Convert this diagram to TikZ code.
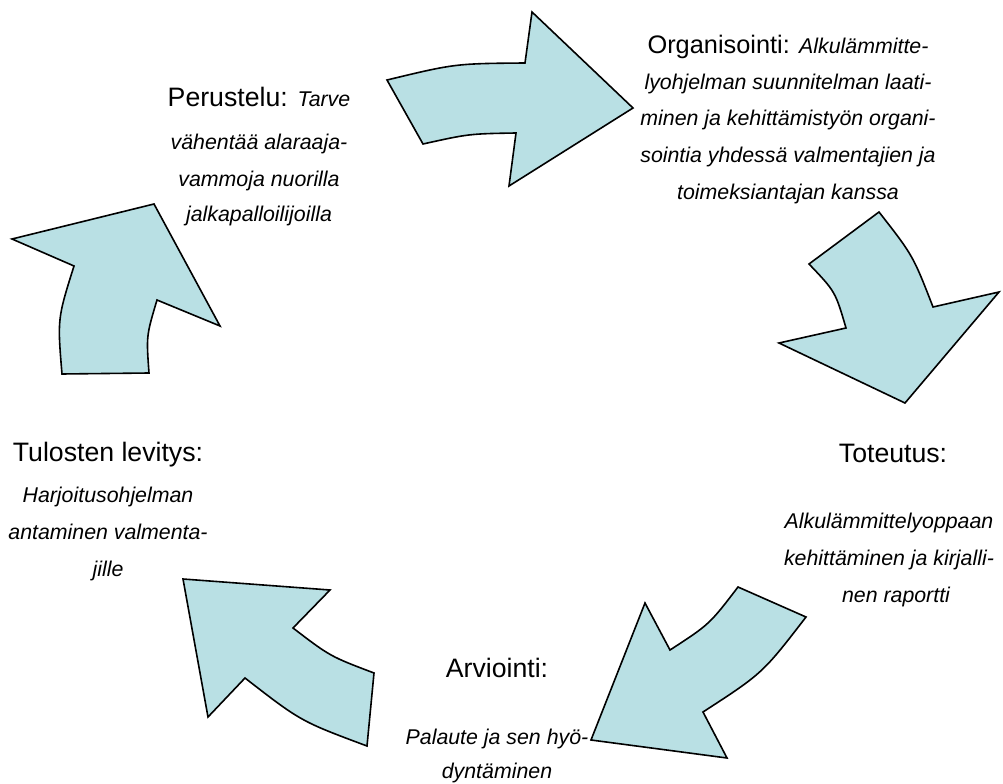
\documentclass[tikz,border=0pt]{standalone}
\usepackage{fontspec}
\setmainfont{Liberation Sans}
\definecolor{arrowfill}{RGB}{185,224,228}
\newcommand\bodyf{\fontsize{16}{19}\selectfont\itshape}
\begin{document}
\begin{tikzpicture}[x=0.75pt,y=-0.75pt,
  arrowshape/.style={draw=black,fill=arrowfill,line width=1.2pt,line join=miter},
  ttl/.style={font=\fontsize{20}{24}\selectfont,anchor=base,inner sep=0pt},
  ln/.style={font=\bodyf,anchor=base,inner sep=0pt}]
\useasboundingbox[fill=white] (0,0) rectangle (1003,784);

% arrow 1 (top, pointing right)
\draw[arrowshape] (387,80) .. controls (455,63.6) .. (525,63) -- (532,12) -- (633,108)
  -- (509,186) -- (516,133) .. controls (469,133.8) .. (423,144) -- cycle;
% arrow 3 (right, pointing down)
\draw[arrowshape] (809,264) -- (879,212) .. controls (913,255.5) .. (933,307) -- (999,292)
  -- (905,403) -- (779,343) -- (846,328) .. controls (835.3,291.5) .. cycle;
% arrow 4 (bottom right, pointing down-left)
\draw[arrowshape] (738,587) -- (806,617) .. controls (762.6,673.3) .. (703,712) -- (727,758)
  -- (591,740) -- (645,603) -- (670,650) .. controls (709.4,624.4) .. cycle;
% arrow 5 (bottom left, pointing up-left)
\draw[arrowshape] (183,579) -- (330,590) -- (293,628) .. controls (330.2,656.4) .. (374,673)
  -- (367,746) .. controls (300.8,721.3) .. (245,678) -- (208,717) -- cycle;
% arrow 2 (left, pointing up)
\draw[arrowshape] (12,239) -- (154,204) -- (220,326) -- (157,300) .. controls (146.3,335.8) .. (149,373)
  -- (62,374) .. controls (57.4,318.8) .. (74,266) -- cycle;

% Organisointi
\node[ttl,font=\fontsize{19}{23}\selectfont] (o1) at (788,54) {Organisointi: {\bodyf Alkulämmitte-}};
\node[ln] (o2) at (788,90) {lyohjelman suunnitelman laati-};
\node[ln] (o3) at (788,126) {minen ja kehittämistyön organi-};
\node[ln] (o4) at (788,163) {sointia yhdessä valmentajien ja};
\node[ln] (o5) at (788,200) {toimeksiantajan kanssa};

% Perustelu
\node[ttl] (p1) at (259,107) {Perustelu: {\bodyf Tarve}};
\node[ln] (p2) at (259,150) {vähentää alaraaja-};
\node[ln] (p3) at (259,187) {vammoja nuorilla};
\node[ln] (p4) at (259,222) {jalkapalloilijoilla};

% Tulosten levitys
\node[ttl] (t1) at (108,461) {Tulosten levitys:};
\node[ln] (t2) at (108,502) {Harjoitusohjelman};
\node[ln] (t3) at (108,539) {antaminen valmenta-};
\node[ln] (t4) at (108,576) {jille};

% Toteutus
\node[ttl] (e1) at (893,462) {Toteutus:};
\node[ln] (e2) at (889,528) {Alkulämmittelyoppaan};
\node[ln] (e3) at (889,565) {kehittäminen ja kirjalli-};
\node[ln] (e4) at (896,602) {nen raportti};

% Arviointi
\node[ttl] (a1) at (497,677) {Arviointi:};
\node[ln] (a2) at (497,744) {Palaute ja sen hyö-};
\node[ln] (a3) at (497,778) {dyntäminen};
\end{tikzpicture}
\end{document}
